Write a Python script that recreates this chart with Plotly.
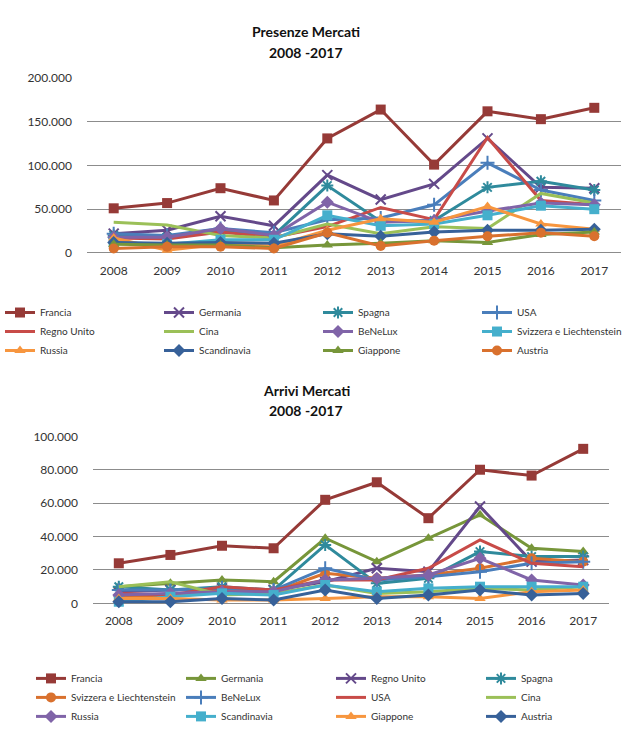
import plotly.graph_objects as go

years = ["2008", "2009", "2010", "2011", "2012", "2013", "2014", "2015", "2016", "2017"]

# Presenze (overnight stays) by market
pres_francia = [51000, 57000, 74000, 60000, 131000, 164000, 101000, 162000, 153000, 166000]
pres_germania = [22000, 26000, 42000, 31000, 89000, 61000, 79000, 131000, 75000, 74000]
pres_spagna = [20000, 18000, 25000, 20000, 77000, 36000, 37000, 75000, 82000, 72000]
pres_usa = [22000, 20000, 28000, 23000, 38000, 40000, 55000, 103000, 72000, 60000]
pres_regno_unito = [17000, 16000, 24000, 18000, 30000, 52000, 38000, 132000, 60000, 55000]
pres_cina = [35000, 32000, 20000, 17000, 33000, 22000, 30000, 28000, 68000, 57000]
pres_benelux = [18000, 18000, 28000, 20000, 58000, 35000, 37000, 48000, 57000, 55000]
pres_svizzera = [12000, 10000, 15000, 15000, 43000, 31000, 33000, 43000, 54000, 50000]
pres_russia = [17000, 3000, 10000, 8000, 26000, 39000, 35000, 53000, 33000, 27000]
pres_scandinavia = [12000, 11000, 12000, 11000, 22000, 19000, 24000, 26000, 26000, 27000]
pres_giappone = [10000, 9000, 9000, 6000, 9000, 11000, 14000, 12000, 21000, 24000]
pres_austria = [5000, 7000, 7000, 5000, 23000, 8000, 14000, 19000, 23000, 19000]

# Arrivi (arrivals) by market
arr_francia = [24000, 29000, 34500, 33000, 62000, 72500, 51000, 80000, 76500, 92500]
arr_germania = [10000, 12000, 14000, 13000, 39000, 25000, 39000, 53000, 33000, 31000]
arr_regno_unito = [7000, 8000, 9000, 8000, 13000, 21000, 19000, 58000, 25000, 26000]
arr_spagna = [10000, 8000, 10000, 8000, 35000, 12000, 15000, 31000, 28000, 28000]
arr_svizzera = [4000, 5000, 8000, 7000, 18000, 15000, 17000, 21000, 27000, 25000]
arr_benelux = [8000, 8000, 9000, 8000, 21000, 14000, 16000, 19000, 24000, 25000]
arr_usa = [6000, 5000, 10000, 8000, 14000, 14000, 21000, 38000, 24000, 22000]
arr_cina = [10000, 13000, 5000, 6000, 11000, 6000, 7000, 9000, 8000, 10000]
arr_russia = [5000, 6000, 7000, 7000, 14000, 15000, 17000, 27000, 14000, 11000]
arr_scandinavia = [1000, 4000, 6000, 5000, 11000, 7000, 9000, 10000, 10000, 10000]
arr_giappone = [3000, 3000, 2000, 2000, 3000, 4000, 4000, 3000, 7000, 8000]
arr_austria = [1000, 1000, 3000, 2000, 8000, 3000, 5000, 8000, 5000, 6000]

W, H = 635, 731
FONT = "Lato"

# (name, values, colour, marker symbol or None)
top_series = [
    ("Francia", pres_francia, "#963a37", "square"),
    ("Germania", pres_germania, "#64498a", "x-thin-open"),
    ("Spagna", pres_spagna, "#2f8a9c", "asterisk-open"),
    ("USA", pres_usa, "#4a7ebb", "cross-thin-open"),
    ("Regno Unito", pres_regno_unito, "#c84b48", None),
    ("Cina", pres_cina, "#9bc058", None),
    ("BeNeLux", pres_benelux, "#8064a8", "diamond"),
    ("Svizzera e Liechtenstein", pres_svizzera, "#45afcc", "square"),
    ("Russia", pres_russia, "#f7963f", "triangle-up"),
    ("Scandinavia", pres_scandinavia, "#376199", "diamond"),
    ("Giappone", pres_giappone, "#77963a", "triangle-up"),
    ("Austria", pres_austria, "#d9712e", "circle"),
]

bottom_series = [
    ("Francia", arr_francia, "#963a37", "square"),
    ("Germania", arr_germania, "#77963a", "triangle-up"),
    ("Regno Unito", arr_regno_unito, "#64498a", "x-thin-open"),
    ("Spagna", arr_spagna, "#2f8a9c", "asterisk-open"),
    ("Svizzera e Liechtenstein", arr_svizzera, "#d9712e", "circle"),
    ("BeNeLux", arr_benelux, "#4a7ebb", "cross-thin-open"),
    ("USA", arr_usa, "#c84b48", None),
    ("Cina", arr_cina, "#9bc058", None),
    ("Russia", arr_russia, "#8064a8", "diamond"),
    ("Scandinavia", arr_scandinavia, "#45afcc", "square"),
    ("Giappone", arr_giappone, "#f7963f", "triangle-up"),
    ("Austria", arr_austria, "#376199", "diamond"),
]

fig = go.Figure()


def add_series(series, xaxis, yaxis, legend):
    for name, vals, color, sym in series:
        if sym is None:
            mode = "lines"
            marker = dict()
        else:
            mode = "lines+markers"
            open_sym = sym.endswith("-open")
            marker = dict(
                symbol=sym, size=10, color=color,
                line=dict(color=color, width=2 if open_sym else 0),
            )
        fig.add_trace(go.Scatter(
            x=years, y=vals, name=name, mode=mode,
            line=dict(color=color, width=3),
            marker=marker,
            xaxis=xaxis, yaxis=yaxis, legend=legend,
            cliponaxis=False,
        ))


add_series(top_series, "x", "y", "legend")
add_series(bottom_series, "x2", "y2", "legend2")


def px_x(v):
    return v / W


def px_y(v):
    return 1 - v / H


grid = "#8c8c8c"
tick_font = dict(family=FONT, size=12, color="#333333")

xcommon = dict(
    type="category", showgrid=False, showline=False, zeroline=False,
    tickfont=tick_font, ticks="", ticklabelstandoff=9, fixedrange=True,
)
ycommon = dict(
    showgrid=True, gridcolor=grid, gridwidth=1, zeroline=True,
    zerolinecolor=grid, zerolinewidth=1, showline=False,
    tickfont=tick_font, tickformat=",d", ticks="", ticklabelstandoff=14,
)

fig.update_layout(
    width=W, height=H,
    margin=dict(l=0, r=0, t=0, b=0),
    paper_bgcolor="white", plot_bgcolor="white",
    separators=",.",
    font=dict(family=FONT, color="#333333"),
    xaxis=dict(domain=[px_x(87), px_x(621)], anchor="y", range=[-0.5, 9.5], **xcommon),
    yaxis=dict(domain=[px_y(255), px_y(73)], anchor="x", range=[0, 200000],
               dtick=50000, **ycommon),
    xaxis2=dict(domain=[px_x(93), px_x(609)], anchor="y2", range=[-0.5, 9.5], **xcommon),
    yaxis2=dict(domain=[px_y(620), px_y(446)], anchor="x2", range=[0, 100000],
                dtick=20000, **ycommon),
    legend=dict(
        orientation="h", x=0, y=px_y(302), xanchor="left", yanchor="top",
        entrywidth=114, entrywidthmode="pixels", tracegroupgap=0,
        font=dict(family=FONT, size=10, color="#333333"),
        itemclick=False, bgcolor="rgba(0,0,0,0)",
    ),
    legend2=dict(
        orientation="h", x=px_x(31), y=px_y(683), xanchor="left", yanchor="top",
        entrywidth=105, entrywidthmode="pixels", tracegroupgap=0,
        font=dict(family=FONT, size=10, color="#333333"),
        itemclick=False, bgcolor="rgba(0,0,0,0)",
    ),
    showlegend=True,
)

title_font = dict(family=FONT, size=14, color="#111111")
titles = [
    ("<b>Presenze Mercati</b>", 24),
    ("<b>2008 -2017</b>", 46),
    ("<b>Arrivi Mercati</b>", 398),
    ("<b>2008 -2017</b>", 419),
]
for text, ypx in titles:
    fig.add_annotation(
        text=text, x=px_x(306), y=px_y(ypx), xref="paper", yref="paper",
        xanchor="center", yanchor="middle", showarrow=False, font=title_font,
    )

fig.write_html("out.html")
